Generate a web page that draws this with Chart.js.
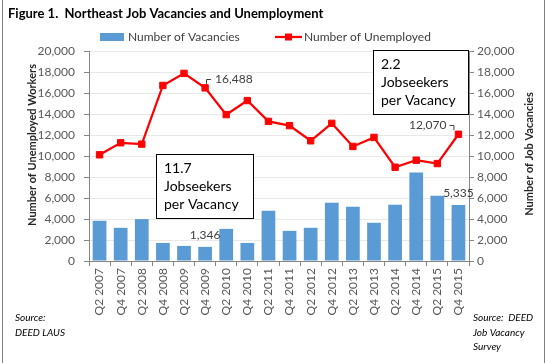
<!DOCTYPE html>
<html>
<head>
<meta charset="utf-8">
<script src="https://cdn.jsdelivr.net/npm/chart.js@4"></script>
<style>
  html, body { margin: 0; padding: 0; background: #fff; }
  #wrap { width: 548px; height: 363px; }
</style>
</head>
<body>
<div id="wrap"><canvas id="c" width="548" height="363"></canvas></div>
<script>
// ---- data ----
const categories = ['Q2 2007','Q4 2007','Q2 2008','Q4 2008','Q2 2009','Q4 2009','Q2 2010','Q4 2010','Q2 2011','Q4 2011','Q2 2012','Q4 2012','Q2 2013','Q4 2013','Q2 2014','Q4 2014','Q2 2015','Q4 2015'];
const vacancies = [3830, 3160, 3990, 1720, 1435, 1346, 3060, 1720, 4785, 2870, 3160, 5550, 5170, 3640, 5360, 8420, 6220, 5335];
const unemployed = [10115, 11260, 11130, 16720, 17870, 16488, 13940, 15280, 13300, 12890, 11450, 13110, 10910, 11770, 8930, 9600, 9280, 12070];
const axisTicks = [0, 2000, 4000, 6000, 8000, 10000, 12000, 14000, 16000, 18000, 20000];
const labeledVacancies = [5, 17];
const labeledUnemployed = [5, 17];

const FONT = 'Lato, "Open Sans", sans-serif';
const BAR_COLOR = '#5B9BD5';
const LINE_COLOR = '#FF0000';
const AXIS_COLOR = '#868686';
const TEXT_COLOR = '#404040';
const fmt = v => Number(v).toLocaleString('en-US');

const decor = {
  id: 'decor',
  beforeDraw(chart) {
    const ctx = chart.ctx;
    ctx.save();
    ctx.fillStyle = '#fff';
    ctx.fillRect(0, 0, chart.width, chart.height);
    ctx.restore();
  },
  afterDraw(chart) {
    const ctx = chart.ctx;
    ctx.save();
    // frame
    ctx.strokeStyle = '#7f7f7f';
    ctx.lineWidth = 1;
    ctx.beginPath();
    ctx.moveTo(2.5, 0); ctx.lineTo(2.5, 363);
    ctx.moveTo(544.5, 0); ctx.lineTo(544.5, 363);
    ctx.stroke();

    // title
    ctx.fillStyle = '#000';
    ctx.font = 'bold 13px ' + FONT;
    ctx.textBaseline = 'middle';
    ctx.textAlign = 'left';
    ctx.fillText('Figure 1.  Northeast Job Vacancies and Unemployment', 8, 14);

    // legend
    const ds = chart.data.datasets;
    ctx.font = '12px ' + FONT;
    ctx.fillStyle = ds[1].backgroundColor;
    ctx.fillRect(100, 33, 24, 8);
    ctx.fillStyle = TEXT_COLOR;
    ctx.fillText(ds[1].label, 128, 37);
    ctx.strokeStyle = ds[0].borderColor;
    ctx.lineWidth = 2.25;
    ctx.beginPath(); ctx.moveTo(275, 37); ctx.lineTo(302, 37); ctx.stroke();
    ctx.fillStyle = ds[0].borderColor;
    ctx.fillRect(285, 33.5, 7, 7);
    ctx.fillStyle = TEXT_COLOR;
    ctx.fillText(ds[0].label, 304, 37);

    // axis titles
    ctx.font = 'bold 11px ' + FONT;
    ctx.fillStyle = '#262626';
    ctx.textAlign = 'center';
    ctx.save();
    ctx.translate(32, 145);
    ctx.rotate(-Math.PI / 2);
    ctx.fillText('Number of Unemployed Workers', 0, 0);
    ctx.restore();
    ctx.save();
    ctx.translate(529, 154);
    ctx.rotate(-Math.PI / 2);
    ctx.fillText('Number of Job Vacancies', 0, 0);
    ctx.restore();

    // data labels
    ctx.font = '12px ' + FONT;
    ctx.fillStyle = TEXT_COLOR;
    const barMeta = chart.getDatasetMeta(1);
    labeledVacancies.forEach(i => {
      const el = barMeta.data[i];
      ctx.textAlign = 'center';
      ctx.textBaseline = 'bottom';
      ctx.fillText(fmt(vacancies[i]), el.x, el.y - 6);
    });
    const lineMeta = chart.getDatasetMeta(0);
    ctx.strokeStyle = '#404040';
    ctx.lineWidth = 1;
    labeledUnemployed.forEach(i => {
      const el = lineMeta.data[i];
      ctx.textBaseline = 'middle';
      const ly = el.y - 9;
      if (i === categories.length - 1) {
        ctx.textAlign = 'right';
        ctx.fillText(fmt(unemployed[i]), el.x - 12, ly);
        ctx.beginPath();
        ctx.moveTo(el.x - 9, Math.round(ly) + 0.5);
        ctx.lineTo(el.x - 4.5, Math.round(ly) + 0.5);
        ctx.lineTo(el.x - 4.5, el.y - 4);
        ctx.stroke();
      } else {
        ctx.textAlign = 'left';
        ctx.fillText(fmt(unemployed[i]), el.x + 10, ly);
        ctx.beginPath();
        ctx.moveTo(Math.round(el.x) + 1.5, el.y - 4);
        ctx.lineTo(Math.round(el.x) + 1.5, Math.round(ly) + 0.5);
        ctx.lineTo(el.x + 6, Math.round(ly) + 0.5);
        ctx.stroke();
      }
    });

    // text boxes
    const box = (x, y, w, h, lines) => {
      ctx.fillStyle = '#fff';
      ctx.fillRect(x, y, w, h);
      ctx.strokeStyle = '#000';
      ctx.lineWidth = 1;
      ctx.strokeRect(x + 0.5, y + 0.5, w, h);
      ctx.fillStyle = '#000';
      ctx.font = '14px ' + FONT;
      ctx.textAlign = 'left';
      ctx.textBaseline = 'middle';
      lines.forEach((t, k) => ctx.fillText(t, x + 8, y + 14 + k * 18));
    };
    box(156, 154, 97, 64, ['11.7', 'Jobseekers', 'per Vacancy']);
    box(373, 50, 95, 64, ['2.2', 'Jobseekers', 'per Vacancy']);

    // sources
    ctx.font = 'italic 10px ' + FONT;
    ctx.fillStyle = '#000';
    ctx.textAlign = 'left';
    ctx.fillText('Source:', 15, 318);
    ctx.fillText('DEED LAUS', 15, 333);
    ctx.fillText('Source:  DEED', 473, 318);
    ctx.fillText('Job Vacancy', 473, 333);
    ctx.fillText('Survey', 473, 347);
    ctx.restore();
  }
};

Chart.defaults.font.family = FONT;
Chart.defaults.font.size = 12;
Chart.defaults.color = '#595959';

new Chart(document.getElementById('c'), {
  type: 'bar',
  data: {
    labels: categories,
    datasets: [
      {
        type: 'line',
        label: 'Number of Unemployed',
        data: unemployed,
        yAxisID: 'y',
        borderColor: LINE_COLOR,
        backgroundColor: LINE_COLOR,
        borderWidth: 2.25,
        tension: 0,
        pointStyle: 'rect',
        pointRadius: 4.5,
        pointBorderWidth: 1,
        pointBackgroundColor: LINE_COLOR,
        pointBorderColor: LINE_COLOR,
        order: 0
      },
      {
        type: 'bar',
        label: 'Number of Vacancies',
        data: vacancies,
        yAxisID: 'y1',
        backgroundColor: BAR_COLOR,
        barPercentage: 0.65,
        categoryPercentage: 1,
        order: 1
      }
    ]
  },
  options: {
    responsive: false,
    animation: false,
    devicePixelRatio: 1,
    layout: { padding: { left: 20, right: 8, top: 51, bottom: 0 } },
    plugins: { legend: { display: false }, title: { display: false }, tooltip: { enabled: false } },
    scales: {
      x: {
        type: 'category',
        offset: true,
        grid: { offset: true, drawOnChartArea: false, drawTicks: true, tickLength: 5, tickColor: AXIS_COLOR },
        border: { color: AXIS_COLOR },
        ticks: { minRotation: 90, maxRotation: 90, autoSkip: false, padding: 2, color: '#595959', font: { size: 12 } },
        afterFit: s => { s.height = 102; }
      },
      y: {
        position: 'left',
        min: 0, max: 20000,
        afterBuildTicks: s => { s.ticks = axisTicks.map(v => ({ value: v })); },
        grid: { color: '#e8e8e8', drawTicks: true, tickLength: 5, tickColor: AXIS_COLOR },
        border: { color: AXIS_COLOR },
        ticks: { padding: 9, callback: v => fmt(v), color: '#595959' },
        afterFit: s => { s.width = 69; }
      },
      y1: {
        position: 'right',
        min: 0, max: 20000,
        afterBuildTicks: s => { s.ticks = axisTicks.map(v => ({ value: v })); },
        grid: { drawOnChartArea: false, drawTicks: true, tickLength: 5, tickColor: AXIS_COLOR },
        border: { color: AXIS_COLOR },
        ticks: { padding: 3, callback: v => fmt(v), color: '#595959' },
        afterFit: s => { s.width = 71; }
      }
    }
  },
  plugins: [decor]
});
</script>
</body>
</html>
